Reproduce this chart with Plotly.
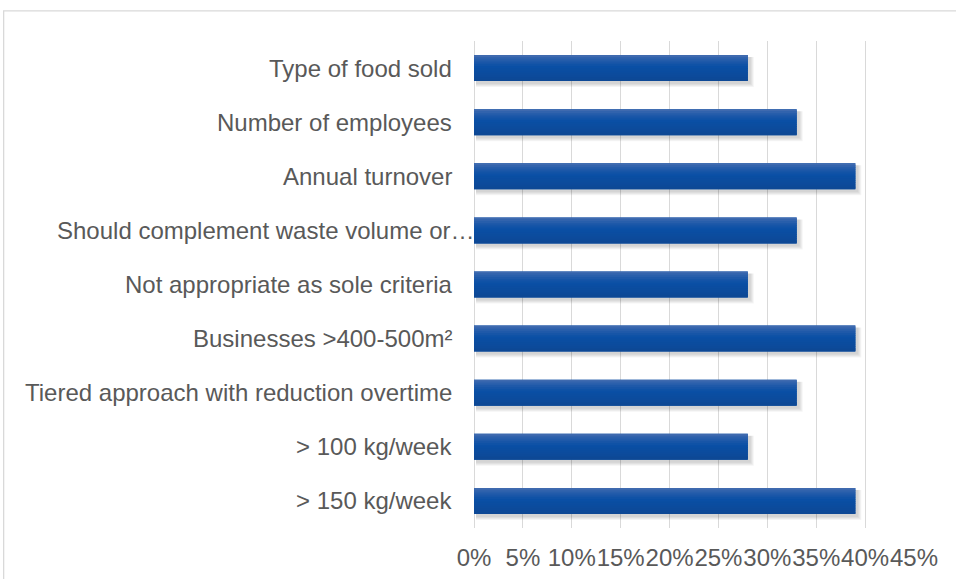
import plotly.graph_objects as go

# Categories listed top to bottom as shown on the chart
categories = [
    "Type of food sold",
    "Number of employees",
    "Annual turnover",
    "Should complement waste volume or\u2026",
    "Not appropriate as sole criteria",
    "Businesses >400-500m\u00b2",
    "Tiered approach with reduction overtime",
    "> 100 kg/week",
    "> 150 kg/week",
]
shares = [0.28, 0.33, 0.39, 0.33, 0.28, 0.39, 0.33, 0.28, 0.39]
tick_values = [0, 0.05, 0.10, 0.15, 0.20, 0.25, 0.30, 0.35, 0.40, 0.45]

FONT = "Liberation Sans, Arial, sans-serif"
TEXT_GREY = "#595959"
GRID_GREY = "#d9d9d9"
BAR_W = 0.48          # bar thickness in category units
PX = 0.45 / 440.0     # one pixel along the value axis
PY = 1 / 54.1         # one pixel along the category axis

fig = go.Figure()

# Soft drop shadow below and to the right of each bar
for k in range(4):
    grow = k + 1.0
    fig.add_trace(go.Bar(
        y=categories, x=[v + grow * PX for v in shares], base=2 * PX,
        orientation="h", width=BAR_W + grow * PY,
        offset=-BAR_W / 2 + 2 * PY,
        marker=dict(color="rgba(0,0,0,0.045)", line=dict(width=0)),
        hoverinfo="skip", showlegend=False,
    ))

def lerp(c1, c2, t):
    return tuple(round(a + (b - a) * t) for a, b in zip(c1, c2))

top_c = (78, 114, 178)
mid_c = (10, 79, 165)
bot_c = (13, 71, 148)

# Solid base so stripe seams never show through
fig.add_trace(go.Bar(
    y=categories, x=shares, orientation="h", width=BAR_W,
    marker=dict(color="rgb(%d,%d,%d)" % mid_c, line=dict(width=0)),
    hoverinfo="skip", showlegend=False,
))

# Bars shaded with thin horizontal stripes for a gradient look
N = 14
for i in range(N):
    t = (i + 0.5) / N
    if t < 0.45:
        c = lerp(top_c, mid_c, (t / 0.45) ** 0.6)
    else:
        c = lerp(mid_c, bot_c, (t - 0.45) / 0.55)
    fig.add_trace(go.Bar(
        y=categories, x=shares, orientation="h",
        width=BAR_W / N * 1.6 if i < N - 1 else BAR_W / N,
        offset=-BAR_W / 2 + i * BAR_W / N,
        marker=dict(color="rgb(%d,%d,%d)" % c, line=dict(width=0)),
        hovertemplate="%{y}: %{x:.0%}<extra></extra>", showlegend=False,
    ))

# Category labels placed to the left of the value axis
annotations = []
for name in categories:
    truncated = name.endswith("\u2026")
    annotations.append(dict(
        x=0, y=name, xref="x", yref="y", text=name, showarrow=False,
        xanchor="right", yanchor="middle",
        xshift=3 if truncated else -20,
        font=dict(family=FONT, size=24, color=TEXT_GREY),
    ))

fig.update_layout(
    width=956, height=579,
    margin=dict(l=474, r=42, t=41, b=51),
    paper_bgcolor="white", plot_bgcolor="white",
    barmode="overlay", bargap=0.52,
    annotations=annotations,
    shapes=[dict(type="rect", xref="paper", yref="paper",
                 x0=-1.069, x1=1.3, y0=-0.3, y1=1.062,
                 line=dict(color=GRID_GREY, width=1.3), layer="below")],
    xaxis=dict(
        range=[0, 0.45], tickvals=tick_values, tickformat=".0%",
        showgrid=True, gridcolor=GRID_GREY, gridwidth=1.3,
        zeroline=True, zerolinecolor=GRID_GREY, zerolinewidth=1.3,
        showline=False, ticks="", ticklabelstandoff=13,
        tickangle=0, automargin=False,
        tickfont=dict(family=FONT, size=24, color=TEXT_GREY),
    ),
    yaxis=dict(
        categoryorder="array", categoryarray=categories,
        autorange="reversed", showticklabels=False, automargin=False,
        showgrid=False, zeroline=False, showline=False,
    ),
)

fig.write_html("out.html")
